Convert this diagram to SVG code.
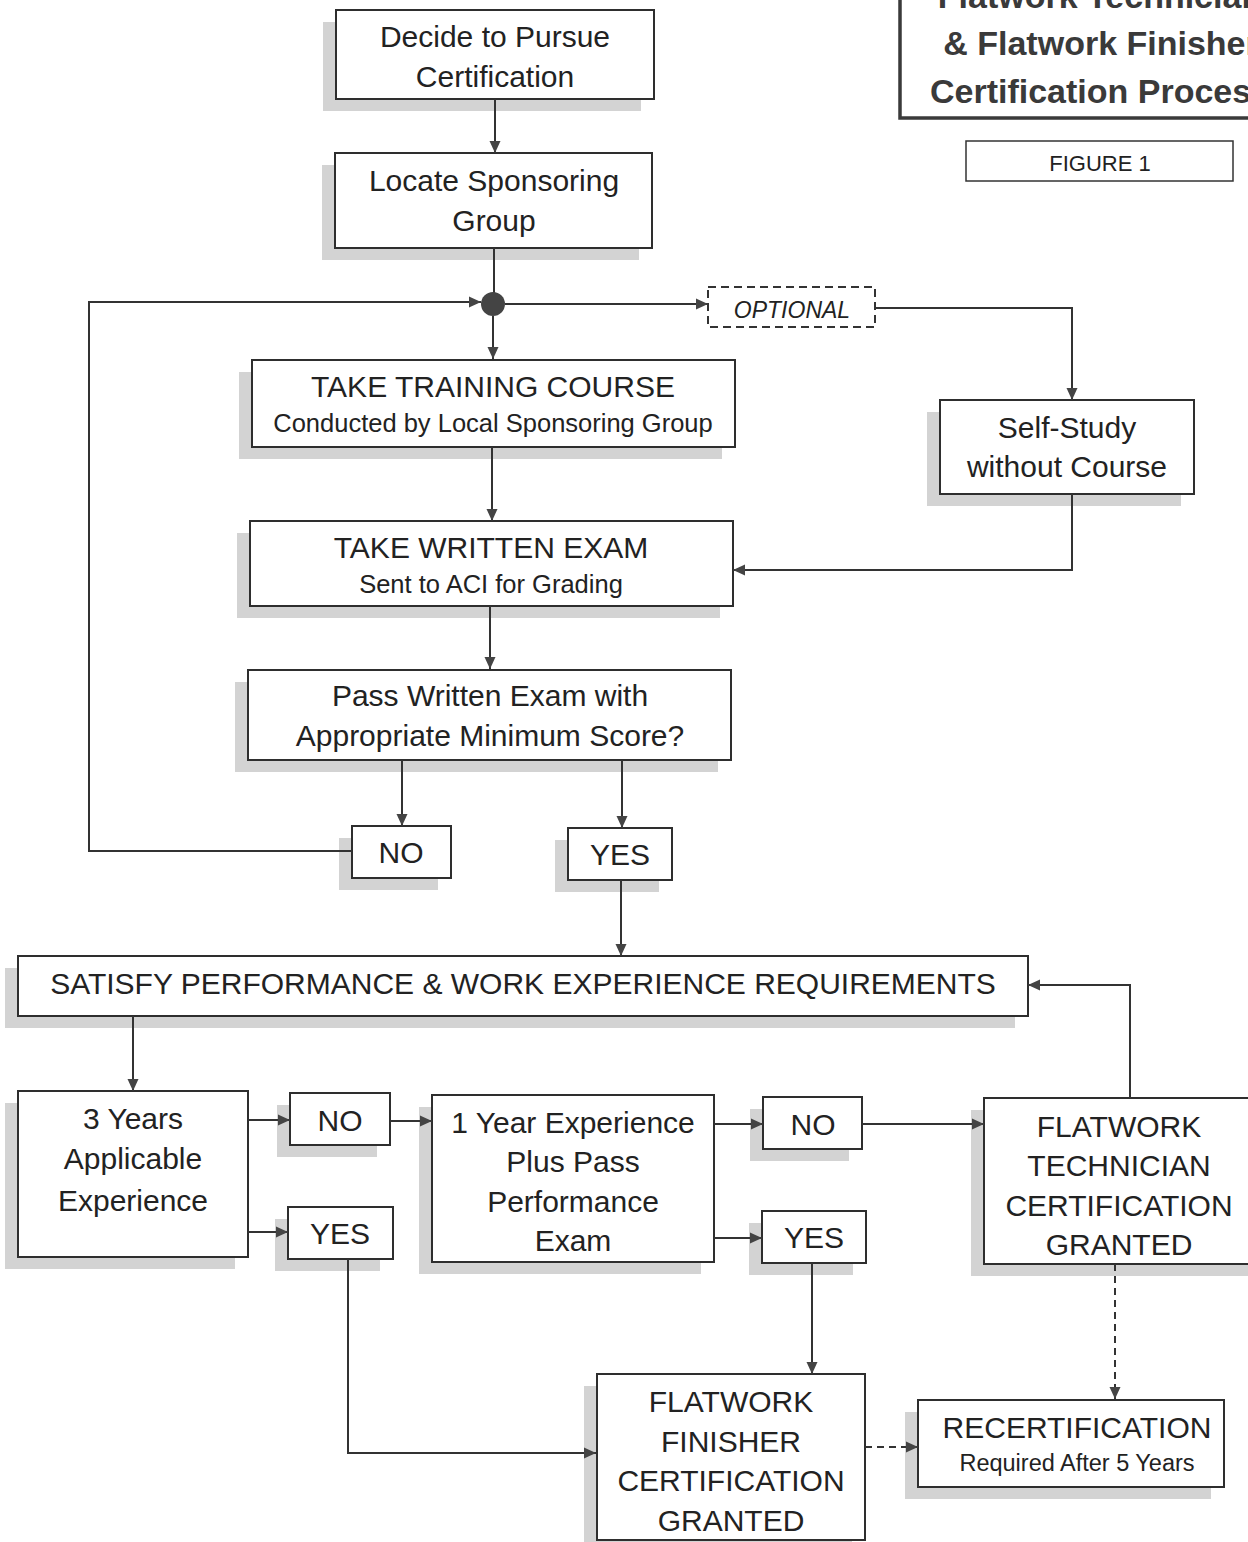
<svg xmlns="http://www.w3.org/2000/svg" width="1248" height="1542" viewBox="0 0 1248 1542">
<style>
.box{fill:#fff;stroke:#2e2e2e;stroke-width:2}
.sh{fill:#d3d3d3}
.t{font-family:"Liberation Sans",Arial,sans-serif;font-size:30px;fill:#222;text-anchor:middle}
.s{font-size:25.5px}
.c{fill:none;stroke:#333;stroke-width:2}
.d{stroke-dasharray:7 5}
.title{font-family:"Liberation Sans",Arial,sans-serif;font-weight:bold;font-size:34px;fill:#3a3a3a;text-anchor:middle}
</style>
<defs>
<marker id="ah" markerUnits="userSpaceOnUse" markerWidth="12" markerHeight="12" refX="12" refY="6" orient="auto">
<path d="M0,0.5 L12,6 L0,11.5 z" fill="#444"/>
</marker>
</defs>
<rect width="1248" height="1542" fill="#fff"/>

<g id="title">
<rect x="900" y="-10" width="370" height="128" fill="#fff" stroke="#3a3a3a" stroke-width="3.5"/>
<text class="title" x="1100" y="8">Flatwork Technician</text>
<text class="title" x="1101" y="55">&amp; Flatwork Finisher</text>
<text class="title" x="1100" y="103">Certification Process</text>
</g>
<g id="figure1">
<rect x="966" y="141" width="267" height="40" fill="#fff" stroke="#333" stroke-width="1.5"/>
<text class="t" x="1100" y="171" style="font-size:22px">FIGURE 1</text>
</g>

<g id="shadows">
<rect class="sh" x="323" y="22" width="318" height="89"/>
<rect class="sh" x="322" y="165" width="317" height="95"/>
<rect class="sh" x="239" y="372" width="483" height="87"/>
<rect class="sh" x="927" y="412" width="254" height="94"/>
<rect class="sh" x="237" y="533" width="483" height="85"/>
<rect class="sh" x="235" y="682" width="483" height="90"/>
<rect class="sh" x="339" y="838" width="99" height="52"/>
<rect class="sh" x="555" y="840" width="104" height="52"/>
<rect class="sh" x="5" y="968" width="1010" height="60"/>
<rect class="sh" x="5" y="1103" width="230" height="166"/>
<rect class="sh" x="277" y="1105" width="100" height="52"/>
<rect class="sh" x="275" y="1219" width="105" height="52"/>
<rect class="sh" x="419" y="1107" width="282" height="167"/>
<rect class="sh" x="750" y="1109" width="99" height="52"/>
<rect class="sh" x="749" y="1223" width="104" height="52"/>
<rect class="sh" x="971" y="1110" width="280" height="166"/>
<rect class="sh" x="584" y="1386" width="268" height="166"/>
<rect class="sh" x="905" y="1412" width="306" height="87"/>
</g>

<g id="decide">
<rect class="box" x="336" y="10" width="318" height="89"/>
<text class="t" x="495" y="47">Decide to Pursue</text>
<text class="t" x="495" y="87">Certification</text>
</g>
<g id="locate">
<rect class="box" x="335" y="153" width="317" height="95"/>
<text class="t" x="494" y="191">Locate Sponsoring</text>
<text class="t" x="494" y="231">Group</text>
</g>
<g id="optional">
<rect x="708" y="287" width="167" height="40" fill="#fff" stroke="#333" stroke-width="2" stroke-dasharray="8 5"/>
<text class="t" x="792" y="318" style="font-size:23px;font-style:italic">OPTIONAL</text>
</g>
<g id="training">
<rect class="box" x="252" y="360" width="483" height="87"/>
<text class="t" x="493" y="397">TAKE TRAINING COURSE</text>
<text class="t s" x="493" y="432">Conducted by Local Sponsoring Group</text>
</g>
<g id="selfstudy">
<rect class="box" x="940" y="400" width="254" height="94"/>
<text class="t" x="1067" y="438">Self-Study</text>
<text class="t" x="1067" y="477">without Course</text>
</g>
<g id="written">
<rect class="box" x="250" y="521" width="483" height="85"/>
<text class="t" x="491" y="558">TAKE WRITTEN EXAM</text>
<text class="t s" x="491" y="593">Sent to ACI for Grading</text>
</g>
<g id="pass">
<rect class="box" x="248" y="670" width="483" height="90"/>
<text class="t" x="490" y="706">Pass Written Exam with</text>
<text class="t" x="490" y="746">Appropriate Minimum Score?</text>
</g>
<g id="no1">
<rect class="box" x="352" y="826" width="99" height="52"/>
<text class="t" x="401" y="863">NO</text>
</g>
<g id="yes1">
<rect class="box" x="568" y="828" width="104" height="52"/>
<text class="t" x="620" y="865">YES</text>
</g>
<g id="satisfy">
<rect class="box" x="18" y="956" width="1010" height="60"/>
<text class="t" x="523" y="994">SATISFY PERFORMANCE &amp; WORK EXPERIENCE REQUIREMENTS</text>
</g>
<g id="threeyears">
<rect class="box" x="18" y="1091" width="230" height="166"/>
<text class="t" x="133" y="1129">3 Years</text>
<text class="t" x="133" y="1169">Applicable</text>
<text class="t" x="133" y="1211">Experience</text>
</g>
<g id="no2">
<rect class="box" x="290" y="1093" width="100" height="52"/>
<text class="t" x="340" y="1131">NO</text>
</g>
<g id="yes2">
<rect class="box" x="288" y="1207" width="105" height="52"/>
<text class="t" x="340" y="1244">YES</text>
</g>
<g id="oneyear">
<rect class="box" x="432" y="1095" width="282" height="167"/>
<text class="t" x="573" y="1133">1 Year Experience</text>
<text class="t" x="573" y="1172">Plus Pass</text>
<text class="t" x="573" y="1212">Performance</text>
<text class="t" x="573" y="1251">Exam</text>
</g>
<g id="no3">
<rect class="box" x="763" y="1097" width="99" height="52"/>
<text class="t" x="813" y="1135">NO</text>
</g>
<g id="yes3">
<rect class="box" x="762" y="1211" width="104" height="52"/>
<text class="t" x="814" y="1248">YES</text>
</g>
<g id="technician">
<rect class="box" x="984" y="1098" width="280" height="166"/>
<text class="t" x="1119" y="1137">FLATWORK</text>
<text class="t" x="1119" y="1176">TECHNICIAN</text>
<text class="t" x="1119" y="1216">CERTIFICATION</text>
<text class="t" x="1119" y="1255">GRANTED</text>
</g>
<g id="finisher">
<rect class="box" x="597" y="1374" width="268" height="166"/>
<text class="t" x="731" y="1412">FLATWORK</text>
<text class="t" x="731" y="1452">FINISHER</text>
<text class="t" x="731" y="1491">CERTIFICATION</text>
<text class="t" x="731" y="1531">GRANTED</text>
</g>
<g id="recert">
<rect class="box" x="918" y="1400" width="306" height="87"/>
<text class="t" x="1077" y="1438">RECERTIFICATION</text>
<text class="t" x="1077" y="1471" style="font-size:23.5px">Required After 5 Years</text>
</g>

<g id="connectors">
<path class="c" d="M495,99 V153" marker-end="url(#ah)"/>
<path class="c" d="M494,248 V293"/>
<path class="c" d="M493,316 V359" marker-end="url(#ah)"/>
<path class="c" d="M505,304 H708" marker-end="url(#ah)"/>
<path class="c" d="M875,308 H1072 V400" marker-end="url(#ah)"/>
<path class="c" d="M1072,494 V570 H733" marker-end="url(#ah)"/>
<path class="c" d="M492,447 V521" marker-end="url(#ah)"/>
<path class="c" d="M490,606 V669" marker-end="url(#ah)"/>
<path class="c" d="M402,760 V826" marker-end="url(#ah)"/>
<path class="c" d="M622,760 V828" marker-end="url(#ah)"/>
<path class="c" d="M352,851 H89 V302 H481" marker-end="url(#ah)"/>
<path class="c" d="M621,880 V956" marker-end="url(#ah)"/>
<path class="c" d="M133,1016 V1091" marker-end="url(#ah)"/>
<path class="c" d="M248,1120 H290" marker-end="url(#ah)"/>
<path class="c" d="M248,1232 H288" marker-end="url(#ah)"/>
<path class="c" d="M390,1121 H432" marker-end="url(#ah)"/>
<path class="c" d="M714,1124 H763" marker-end="url(#ah)"/>
<path class="c" d="M714,1238 H762" marker-end="url(#ah)"/>
<path class="c" d="M862,1124 H984" marker-end="url(#ah)"/>
<path class="c" d="M1130,1098 V985 H1028" marker-end="url(#ah)"/>
<path class="c d" d="M1115,1264 V1399" marker-end="url(#ah)"/>
<path class="c" d="M348,1259 V1453 H596" marker-end="url(#ah)"/>
<path class="c" d="M812,1263 V1374" marker-end="url(#ah)"/>
<path class="c d" d="M865,1447 H918" marker-end="url(#ah)"/>
</g>

<g id="junction">
<circle cx="493" cy="304" r="12" fill="#444"/>
</g>
</svg>
